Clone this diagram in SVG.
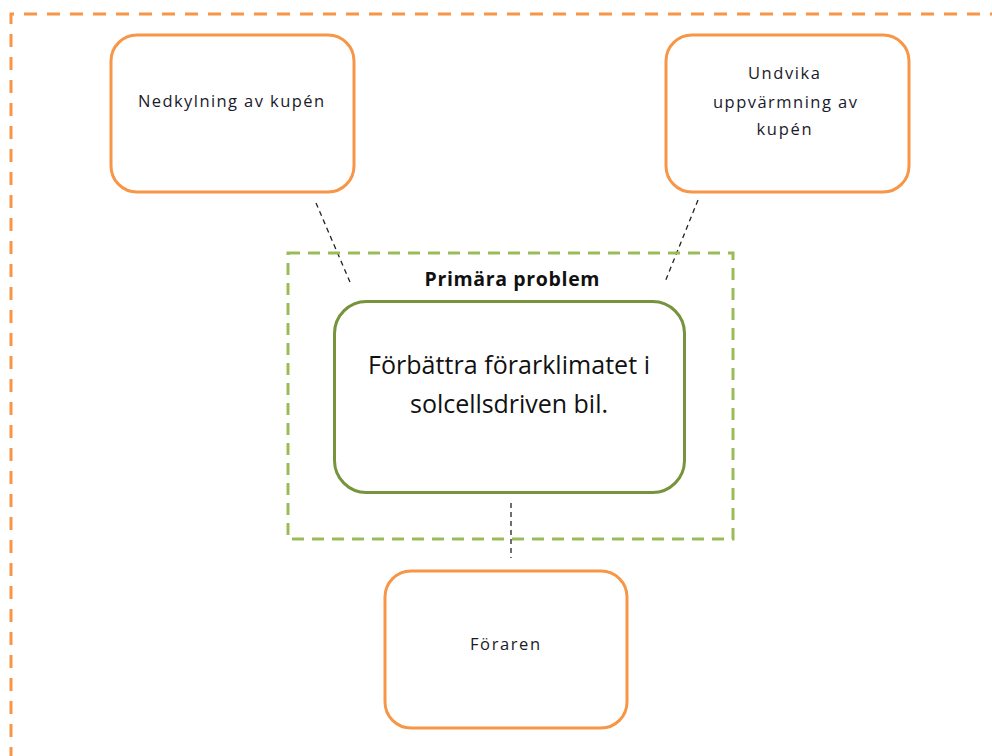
<svg xmlns="http://www.w3.org/2000/svg" width="992" height="756" viewBox="0 0 992 756">
<style>
.orange{fill:#fff;stroke:#F79646;stroke-width:3}
.lbl{font-family:"Open Sans","Liberation Sans",sans-serif;font-size:16.5px;fill:#1a1a2a;text-anchor:middle}
.big{font-family:"Open Sans","Liberation Sans",sans-serif;font-size:25px;fill:#111;text-anchor:middle}
.conn{stroke:#222;stroke-width:1.3;stroke-dasharray:5,4;fill:none}
</style>
<rect width="992" height="756" fill="#fff"/>
<g id="frame">
<path d="M11 760 V14 H1000" fill="none" stroke="#F79646" stroke-width="3" stroke-dasharray="13,10"/>
</g>
<g id="connectors">
<line class="conn" x1="316" y1="203" x2="350" y2="282"/>
<line class="conn" x1="698" y1="200" x2="665" y2="282"/>
<line class="conn" x1="511" y1="503" x2="511" y2="558"/>
</g>
<g id="primary-group">
<rect x="288" y="253" width="445" height="286" fill="none" stroke="#9BBB59" stroke-width="3" stroke-dasharray="12,8"/>
<text x="512" y="286" font-family="'Open Sans','Liberation Sans',sans-serif" font-size="19.5" font-weight="bold" fill="#111" text-anchor="middle" textLength="175" lengthAdjust="spacing">Primära problem</text>
</g>
<g id="node-main">
<rect x="334.5" y="301.5" width="350" height="191" rx="32" fill="#fff" stroke="#77933C" stroke-width="3"/>
<text class="big" x="509" y="374" textLength="282" lengthAdjust="spacing">Förbättra förarklimatet i</text>
<text class="big" x="509" y="413" textLength="198" lengthAdjust="spacing">solcellsdriven bil.</text>
</g>
<g id="node-nedkylning">
<rect class="orange" x="111" y="35" width="243" height="157" rx="26"/>
<text class="lbl" x="231" y="107" textLength="186" lengthAdjust="spacing">Nedkylning av kupén</text>
</g>
<g id="node-undvika">
<rect class="orange" x="666" y="35" width="243" height="157" rx="26"/>
<text class="lbl" x="784" y="79" textLength="72" lengthAdjust="spacing">Undvika</text>
<text class="lbl" x="785" y="108" textLength="144" lengthAdjust="spacing">uppvärmning av</text>
<text class="lbl" x="784" y="135" textLength="55" lengthAdjust="spacing">kupén</text>
</g>
<g id="node-foraren">
<rect class="orange" x="385" y="571" width="242" height="157" rx="26"/>
<text class="lbl" x="505" y="650" textLength="70" lengthAdjust="spacing">Föraren</text>
</g>
</svg>
